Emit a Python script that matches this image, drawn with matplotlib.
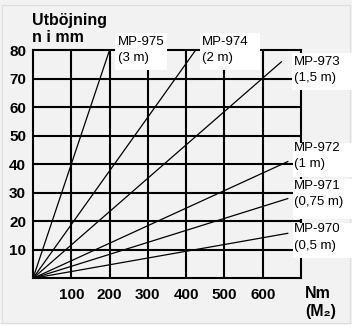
import matplotlib
matplotlib.use("Agg")
import matplotlib.pyplot as plt
from matplotlib.patches import Rectangle

plt.rcParams['font.family'] = ['Liberation Sans', 'DejaVu Sans']

# Data: each line runs from the origin to its end point (Nm, mm)
models = ["MP-975", "MP-974", "MP-973", "MP-972", "MP-971", "MP-970"]
lengths = ["(3 m)", "(2 m)", "(1,5 m)", "(1 m)", "(0,75 m)", "(0,5 m)"]
end_nm = [200, 425, 650, 667, 667, 667]
end_mm = [80, 80, 76, 41, 28, 15.8]
x_ticks = [100, 200, 300, 400, 500, 600]
y_ticks = [10, 20, 30, 40, 50, 60, 70]
y_tick_labels = [10, 20, 30, 40, 50, 60, 70, 80]

W, H = 352, 325
fig = plt.figure(figsize=(W / 100, H / 100), dpi=100)
bg = '#f2f2f2'
fig.patch.set_facecolor(bg)

def fx(px):
    return px / W

def fy(py):
    return 1 - py / H

# faint outer frame
fig.patches.append(Rectangle((fx(2), fy(323)), fx(350) - fx(2), fy(5) - fy(323),
                             transform=fig.transFigure, fill=False,
                             edgecolor='#dedede', linewidth=0.8))

x0, x1, ytop, ybot = 33, 301, 50, 278.3
ax = fig.add_axes([fx(x0), fy(ybot), fx(x1) - fx(x0), fy(ytop) - fy(ybot)])
ax.set_facecolor(bg)
ax.set_xlim(0, 700)
ax.set_ylim(0, 80)

for v in x_ticks:
    ax.axvline(v, color='black', lw=1.5, zorder=1)
for v in y_ticks:
    ax.axhline(v, color='black', lw=1.5, zorder=1)
for s in ax.spines.values():
    s.set_linewidth(1.5)
    s.set_color('black')

for xe, ye in zip(end_nm, end_mm):
    ax.plot([0, xe], [0, ye], color='black', lw=0.9, zorder=2, clip_on=False,
            solid_capstyle='butt')

ax.set_xticks(x_ticks)
ax.set_xticklabels([str(v) for v in x_ticks], fontsize=11, fontweight='bold')
ax.set_yticks(y_tick_labels)
ax.set_yticklabels([str(v) for v in y_tick_labels], fontsize=11, fontweight='bold')
ax.tick_params(length=0, pad=5)
ax.tick_params(axis='x', pad=7)

# label boxes (pixel rectangles: x0, y0, x1, y1) and text origin
boxes = [
    (115, 33, 167, 70, 118, 41.7),
    (200, 33, 260, 70, 202, 41.7),
    (292, 53, 352, 90, 294, 61.7),
    (293, 143, 352, 177, 294, 148),
    (293, 179, 352, 219, 294, 186),
    (293, 223, 352, 258, 294, 229),
]
for (bx0, by0, bx1, by1, tx, ty), m, l in zip(boxes, models, lengths):
    fig.patches.append(Rectangle((fx(bx0), fy(by1)), fx(bx1) - fx(bx0), fy(by0) - fy(by1),
                                 transform=fig.transFigure, facecolor='white',
                                 edgecolor='none', zorder=5))
    fig.text(fx(tx), fy(ty), m, fontsize=9.5, va='center', ha='left', zorder=6)
    fig.text(fx(tx), fy(ty + 16.5), l, fontsize=9.5, va='center', ha='left', zorder=6)

fig.text(fx(32), fy(20), "Utböjning", fontsize=11.5, fontweight='bold', va='center', ha='left')
fig.text(fx(32), fy(38), "n i mm", fontsize=11.5, fontweight='bold', va='center', ha='left')
fig.text(fx(305), fy(293), "Nm", fontsize=11.5, fontweight='bold', va='center', ha='left')
fig.text(fx(305), fy(311.5), "(M₂)", fontsize=11.5, fontweight='bold', va='center', ha='left')

fig.savefig("out.png", dpi=100, facecolor=bg)
